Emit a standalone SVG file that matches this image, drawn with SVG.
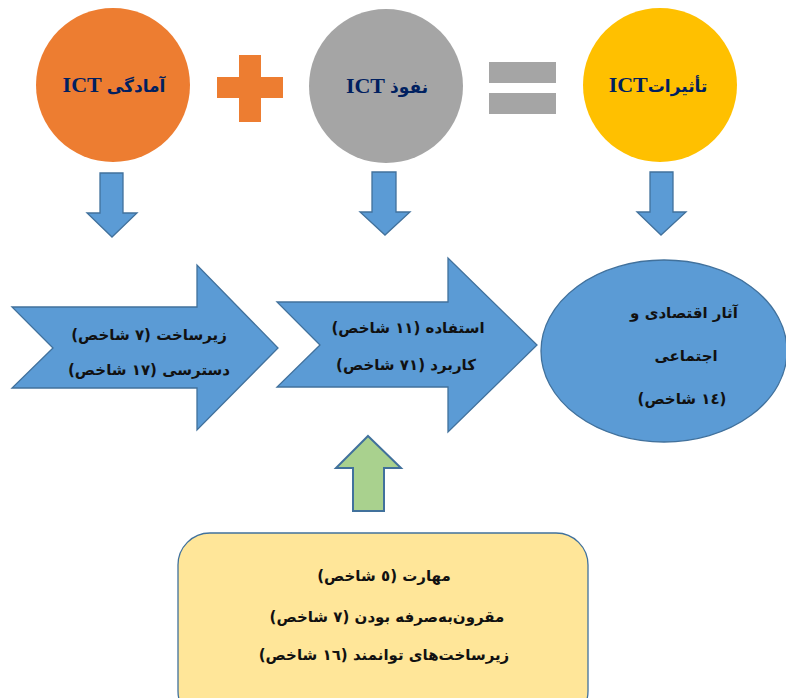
<svg xmlns="http://www.w3.org/2000/svg" width="786" height="698" viewBox="0 0 786 698">
<style>
.blue{fill:#5B9BD5;stroke:#41719C;stroke-width:1.3}
.lbl{font-family:"Liberation Serif","DejaVu Sans",serif;font-weight:bold;fill:#002060;font-size:22px}
.ar{font-family:"DejaVu Sans","Liberation Sans",sans-serif;font-weight:bold;fill:#111;font-size:15px}
</style>
<rect width="786" height="698" fill="#fff"/>
<g id="readiness">
<circle cx="113" cy="85" r="77" fill="#ED7D31"/>
<text class="lbl" x="114" y="92" text-anchor="middle">ICT <tspan font-family="DejaVu Sans" font-size="17">آمادگی</tspan></text>
</g>
<g id="plus"><path d="M239 55H261V77H283V98H261V122H239V98H217V77H239Z" fill="#ED7D31"/></g>
<g id="penetration">
<circle cx="386" cy="86" r="77" fill="#A5A5A5"/>
<text class="lbl" x="387" y="93" text-anchor="middle">ICT <tspan font-family="DejaVu Sans" font-size="17">نفوذ</tspan></text>
</g>
<g id="equals"><rect x="489" y="62" width="67" height="21" fill="#A5A5A5"/><rect x="489" y="93" width="67" height="21" fill="#A5A5A5"/></g>
<g id="impacts">
<circle cx="660" cy="85" r="77" fill="#FFC000"/>
<text class="lbl" x="658" y="92" text-anchor="middle">ICT<tspan font-family="DejaVu Sans" font-size="17">تأثیرات</tspan></text>
</g>
<g id="connectors">
<path class="blue" d="M100 173H123V213H137L112 237L87 213H100Z"/>
<path class="blue" d="M372 172H396V212H410L385 235L360 212H372Z"/>
<path class="blue" d="M650 172H673V212H686L661 235L637 212H650Z"/>
<path d="M368 436L401 468H384V511H353V468H336Z" fill="#A9D18E" stroke="#41719C" stroke-width="2"/>
</g>
<g id="arrow1">
<path class="blue" d="M12 307H197V265L278 348L197 430V388H12L53 348Z"/>
<text class="ar" x="149" y="340" text-anchor="middle" direction="rtl">زیرساخت (٧ شاخص)</text>
<text class="ar" x="149" y="375" text-anchor="middle" direction="rtl">دسترسی (١٧ شاخص)</text>
</g>
<g id="arrow2">
<path class="blue" d="M277 302H448V258L537 345L448 432V387H277L320 345Z"/>
<text class="ar" x="408" y="333" text-anchor="middle" direction="rtl">استفاده (١١ شاخص)</text>
<text class="ar" x="406" y="370" text-anchor="middle" direction="rtl">کاربرد (٧١ شاخص)</text>
</g>
<g id="effects">
<ellipse class="blue" cx="664" cy="351" rx="123" ry="91"/>
<text class="ar" x="684" y="318" text-anchor="middle" direction="rtl">آثار اقتصادی و</text>
<text class="ar" x="686" y="361" text-anchor="middle" direction="rtl">اجتماعی</text>
<text class="ar" x="682" y="404" text-anchor="middle" direction="rtl">(١٤ شاخص)</text>
</g>
<g id="skills">
<rect x="178" y="533" width="410" height="190" rx="32" fill="#FFE699" stroke="#41719C" stroke-width="1.3"/>
<text class="ar" x="384" y="581" text-anchor="middle" direction="rtl">مهارت (٥ شاخص)</text>
<text class="ar" x="387" y="622" text-anchor="middle" direction="rtl">مقرون‌به‌صرفه بودن (٧ شاخص)</text>
<text class="ar" x="384" y="660" text-anchor="middle" direction="rtl">زیرساخت‌های توانمند (١٦ شاخص)</text>
</g>
</svg>
